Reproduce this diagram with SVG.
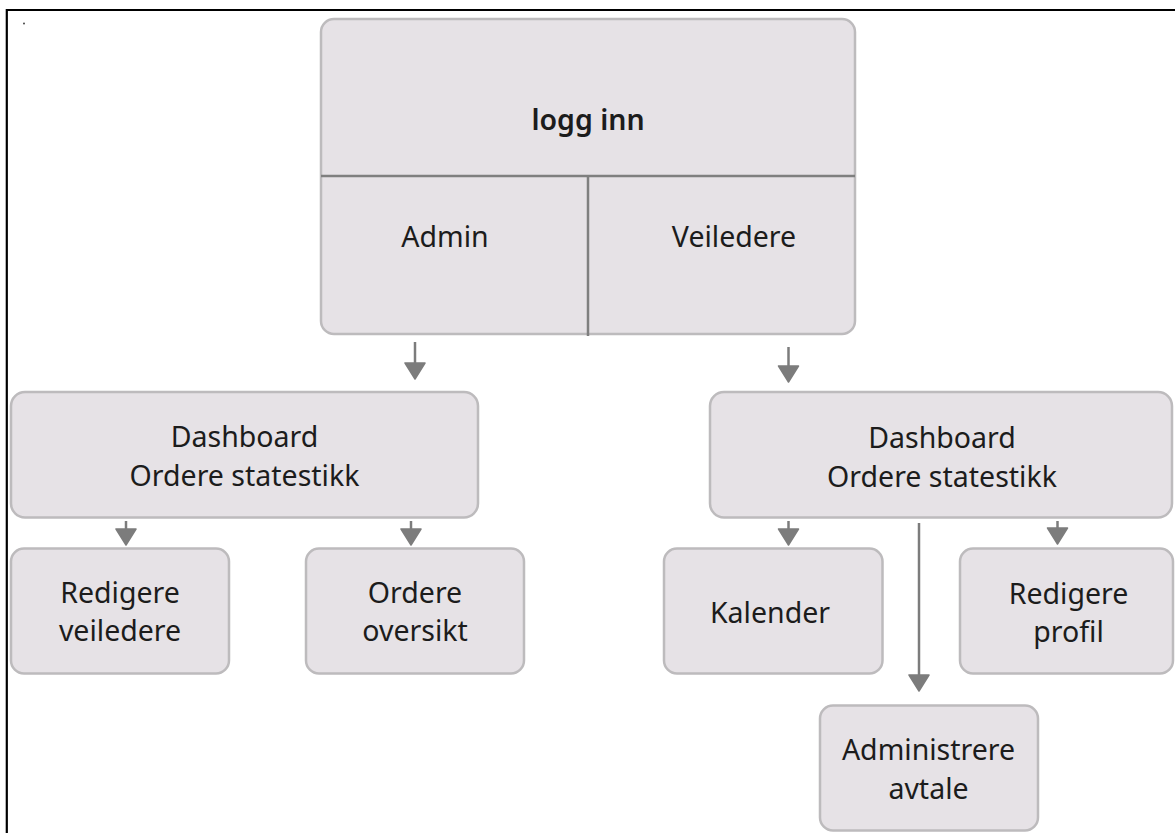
<svg xmlns="http://www.w3.org/2000/svg" width="1175" height="833" viewBox="0 0 1175 833">
  <style>
    .box { fill: #e6e2e6; stroke: #bdbbbd; stroke-width: 2.5; }
    .div { stroke: #7f7f7f; stroke-width: 2.5; fill: none; }
    .lbl { font-family: "Noto Sans", "Open Sans", sans-serif; font-size: 28.5px; fill: #1c1c1c; text-anchor: middle; }
    .title { font-weight: 600; }
    .conn { stroke: #7c7c7c; stroke-width: 2.5; fill: none; marker-end: url(#head); }
  </style>
  <defs>
    <marker id="head" markerUnits="userSpaceOnUse" markerWidth="24" markerHeight="24" viewBox="0 0 24 24" refX="9" refY="12" orient="auto">
      <path d="M1,2 L17,12 L1,22 Z" fill="#7c7c7c" stroke="#7c7c7c" stroke-width="1.5" stroke-linejoin="round"/>
    </marker>
  </defs>
  <rect x="0" y="0" width="1175" height="833" fill="#ffffff"/>
  <g id="frame">
    <line x1="6.8" y1="10" x2="1175" y2="10" stroke="#000" stroke-width="2"/>
    <line x1="6.8" y1="9" x2="6.8" y2="833" stroke="#000" stroke-width="2.2"/>
    <circle cx="24" cy="23.5" r="0.9" fill="#333"/>
  </g>
  <g id="login">
    <rect class="box" x="321" y="19" width="534" height="315" rx="13"/>
    <line class="div" x1="321" y1="176" x2="855" y2="176"/>
    <line class="div" x1="588" y1="176" x2="588" y2="336"/>
    <text class="lbl title" x="588" y="130">logg inn</text>
    <text class="lbl" x="445" y="247">Admin</text>
    <text class="lbl" x="734" y="247">Veiledere</text>
  </g>
  <g id="dash-admin">
    <rect class="box" x="11" y="392" width="467" height="125.5" rx="14"/>
    <text class="lbl" x="244.5" y="447">Dashboard</text>
    <text class="lbl" x="244.5" y="486">Ordere statestikk</text>
  </g>
  <g id="dash-veileder">
    <rect class="box" x="710" y="392" width="462" height="125.5" rx="14"/>
    <text class="lbl" x="942" y="447.5">Dashboard</text>
    <text class="lbl" x="942" y="486.5">Ordere statestikk</text>
  </g>
  <g id="redigere-veiledere">
    <rect class="box" x="11" y="548.5" width="218" height="125" rx="13"/>
    <text class="lbl" x="120" y="603">Redigere</text>
    <text class="lbl" x="120" y="641">veiledere</text>
  </g>
  <g id="ordere-oversikt">
    <rect class="box" x="306" y="548.5" width="218" height="125" rx="13"/>
    <text class="lbl" x="415" y="603">Ordere</text>
    <text class="lbl" x="415" y="641">oversikt</text>
  </g>
  <g id="kalender">
    <rect class="box" x="664" y="548.5" width="218.5" height="125" rx="13"/>
    <text class="lbl" x="770" y="623">Kalender</text>
  </g>
  <g id="redigere-profil">
    <rect class="box" x="960" y="548.5" width="213" height="125" rx="13"/>
    <text class="lbl" x="1068.5" y="604">Redigere</text>
    <text class="lbl" x="1068.5" y="642">profil</text>
  </g>
  <g id="administrere-avtale">
    <rect class="box" x="820" y="705.5" width="218" height="125" rx="13"/>
    <text class="lbl" x="928.5" y="760">Administrere</text>
    <text class="lbl" x="928.5" y="799">avtale</text>
  </g>
  <g id="connectors">
    <line class="conn" x1="415" y1="342" x2="415" y2="371"/>
    <line class="conn" x1="788.5" y1="347" x2="788.5" y2="374"/>
    <line class="conn" x1="126" y1="521" x2="126" y2="537"/>
    <line class="conn" x1="411" y1="521" x2="411" y2="537"/>
    <line class="conn" x1="788.5" y1="521" x2="788.5" y2="537"/>
    <line class="conn" x1="1057.5" y1="521" x2="1057.5" y2="536"/>
    <line class="conn" x1="919" y1="523" x2="919" y2="683"/>
  </g>
</svg>
